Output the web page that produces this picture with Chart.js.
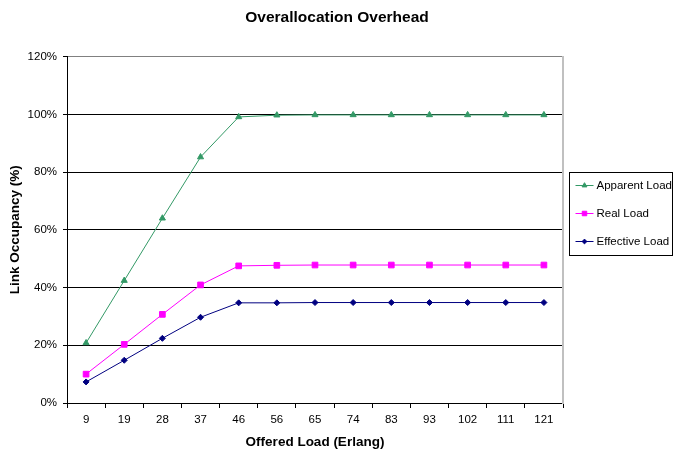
<!DOCTYPE html>
<html>
<head>
<meta charset="utf-8">
<script src="https://cdn.jsdelivr.net/npm/chart.js@4"></script>
<style>
html,body{margin:0;padding:0;background:#fff;}
#wrap{width:674px;height:452px;position:relative;}
</style>
</head>
<body>
<div id="wrap"><canvas id="c" width="674" height="452"></canvas></div>
<script>
const categories = ['9','19','28','37','46','56','65','74','83','93','102','111','121'];
const apparentLoad = [20.8, 42.4, 64.0, 85.2, 99.1, 99.7, 99.8, 99.8, 99.8, 99.8, 99.8, 99.8, 99.8];
const realLoad = [10.0, 20.3, 30.7, 40.9, 47.5, 47.7, 47.8, 47.8, 47.8, 47.8, 47.8, 47.8, 47.8];
const effectiveLoad = [7.3, 14.8, 22.4, 29.7, 34.7, 34.7, 34.8, 34.8, 34.8, 34.8, 34.8, 34.8, 34.8];
const yTicks = [0, 20, 40, 60, 80, 100, 120];

const FONT = '"Liberation Sans", Arial, sans-serif';

new Chart(document.getElementById('c'), {
  type: 'line',
  data: {
    labels: categories,
    datasets: [
      {
        label: 'Apparent Load',
        data: apparentLoad,
        borderColor: '#339966',
        backgroundColor: '#339966',
        pointStyle: 'triangle',
        pointRadius: 3.5,
        borderWidth: 1,
        pointBorderWidth: 1,
        tension: 0
      },
      {
        label: 'Real Load',
        data: realLoad,
        borderColor: '#ff00ff',
        backgroundColor: '#ff00ff',
        pointStyle: 'rect',
        pointRadius: 4,
        borderWidth: 1,
        pointBorderWidth: 1,
        tension: 0
      },
      {
        label: 'Effective Load',
        data: effectiveLoad,
        borderColor: '#000080',
        backgroundColor: '#000080',
        pointStyle: 'rectRot',
        pointRadius: 3,
        borderWidth: 1,
        pointBorderWidth: 1,
        tension: 0
      }
    ]
  },
  options: {
    responsive: false,
    animation: false,
    devicePixelRatio: 1,
    layout: { padding: 0 },
    plugins: {
      legend: { display: false },
      tooltip: { enabled: false },
      title: {
        display: true,
        text: 'Overallocation Overhead',
        color: '#000',
        font: { family: FONT, size: 15.5, weight: 'bold' },
        padding: { top: 8, bottom: 30 }
      }
    },
    scales: {
      x: {
        type: 'category',
        offset: true,
        afterFit(scale) { scale.height = 49; },
        grid: {
          display: true,
          drawOnChartArea: false,
          offset: true,
          tickLength: 5,
          color: '#000',
          tickColor: '#000'
        },
        border: { display: true, color: '#000', width: 1 },
        ticks: {
          color: '#000',
          font: { family: FONT, size: 11.5 },
          padding: 5,
          maxRotation: 0,
          autoSkip: false
        },
        title: {
          display: true,
          text: 'Offered Load (Erlang)',
          color: '#000',
          font: { family: FONT, size: 13.5, weight: 'bold' },
          padding: { top: 0, bottom: 2 }
        }
      },
      y: {
        min: yTicks[0],
        max: yTicks[yTicks.length - 1],
        afterFit(scale) { scale.width = 67; },
        afterBuildTicks(scale) { scale.ticks = yTicks.map(v => ({ value: v })); },
        grid: {
          color: (c) => (c.tick && c.tick.value === yTicks[yTicks.length - 1]) ? '#808080' : '#000',
          tickColor: '#000',
          tickLength: 4,
          lineWidth: 1
        },
        border: { display: true, color: '#000', width: 1 },
        ticks: {
          color: '#000',
          font: { family: FONT, size: 11.5 },
          padding: 6,
          callback: (v) => v + '%'
        },
        title: {
          display: true,
          text: 'Link Occupancy (%)',
          color: '#000',
          font: { family: FONT, size: 13.5, weight: 'bold' },
          padding: { top: 7, bottom: 0 }
        }
      },
      yRight: {
        position: 'right',
        min: yTicks[0],
        max: yTicks[yTicks.length - 1],
        afterFit(scale) { scale.width = 111; },
        grid: { display: false, drawOnChartArea: false },
        border: { display: true, color: '#c0c0c0', width: 2 },
        ticks: { display: false }
      }
    }
  },
  plugins: [{
    id: 'boxLegend',
    afterDraw(chart) {
      const ctx = chart.ctx;
      const ca = chart.chartArea;
      ctx.save();
      const bx = ca.right + 6.5, by = 172.5, bw = 103, bh = 83;
      ctx.strokeStyle = '#000';
      ctx.lineWidth = 1;
      ctx.strokeRect(bx, by, bw, bh);
      ctx.font = '11.5px ' + FONT;
      ctx.textBaseline = 'middle';
      ctx.textAlign = 'left';
      chart.data.datasets.forEach((ds, i) => {
        const y = by + 13 + i * 28;
        const x0 = bx + 6, x1 = bx + 24;
        ctx.strokeStyle = ds.borderColor;
        ctx.fillStyle = ds.backgroundColor;
        ctx.lineWidth = 1;
        ctx.beginPath();
        ctx.moveTo(x0, y);
        ctx.lineTo(x1, y);
        ctx.stroke();
        Chart.helpers.drawPoint(ctx, {
          pointStyle: ds.pointStyle,
          radius: ds.pointRadius * 0.8,
          rotation: 0,
          borderWidth: 1
        }, (x0 + x1) / 2, y);
        ctx.fillStyle = '#000';
        ctx.fillText(ds.label, x1 + 3, y + 0.5);
      });
      ctx.restore();
    }
  }]
});
</script>
</body>
</html>
